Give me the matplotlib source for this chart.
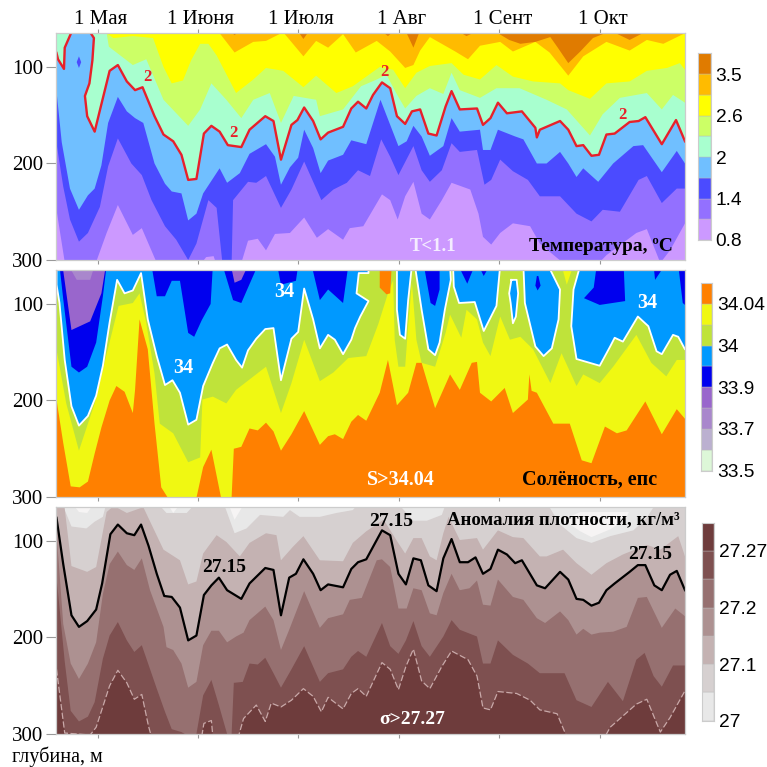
import numpy as np
import matplotlib
matplotlib.use('Agg')
import matplotlib.pyplot as plt

# x is the survey step number (0..84), y is depth in metres
month_ticks = [5.48, 18.9, 32.3, 45.75, 59.2, 72.6]
month_labels = ['1 Мая', '1 Июня', '1 Июля', '1 Авг', '1 Сент', '1 Окт']
depth_ticks = [100, 200, 300]

# temperature isolines, from warm to cold
t_35 = [(0,60),(22.8,60),(23.8,67),(24.8,60),(32,60),(33,71),(34,60),(40,60),(41,66),(42,60),(43,60),(44.3,68),(45.5,60),(46.5,60),(47.7,80),(48.7,60),(53,60),(54.8,68),(57,60),(59,65),(60.5,72),(62,76),(64,74),(66,69),(67,80),(68.4,96),(70,84),(71.7,70),(73,66),(74,60),(75,66),(76.6,72),(78.6,64),(84,60)]
t_30 = [(0,60),(21.5,60),(21.8,65),(23.8,85),(26.3,74),(28,73),(30.3,64),(33,89),(34.7,73),(36.3,80),(38.3,66),(40,85),(42.8,73),(44.6,84),(46.6,101),(47.7,98),(48.6,83),(49.9,69),(53.3,84),(55,92),(56.6,78),(59.3,74),(61,84),(64,74),(65.9,85),(68.4,109),(70.4,89),(73.5,74),(76.6,83),(78.9,72),(81.1,76),(84,65)]
t_26 = [(0,60),(6.4,60),(6.7,65),(7.6,70),(10.2,68),(12.9,70),(14.3,100),(15.4,117),(16.9,114),(18,93),(19.2,76),(20.3,76),(21.4,88),(24,127),(26.3,113),(28,101),(30.3,104),(33,121),(34.7,109),(37.4,127),(39.6,120),(41.4,110),(43.2,100),(45,103),(46.6,122),(48.1,106),(49.9,99),(52.8,96),(54.4,108),(56.6,113),(58.8,98),(61,110),(63.7,115),(67.3,117),(68.4,124),(71.3,133),(73.5,117),(76.6,115),(78.9,104),(81.6,101),(83.3,96),(84,103)]
t_23 = [(0,60),(6.4,60),(6.7,65),(7,79),(10.2,98),(12,92),(14.3,134),(17.6,161),(19.2,144),(20.7,117),(22.7,134),(24.7,153),(26.3,134),(28.5,127),(30,158),(31.7,130),(34.7,134),(35.2,151),(38.3,144),(40.7,120),(42.8,113),(44.1,108),(45.4,127),(46.6,143),(48.1,130),(49.9,122),(51.7,128),(52.8,106),(53.9,124),(56.6,132),(58.8,122),(61.9,122),(65.5,134),(68.2,144),(71.3,171),(73,149),(75.3,132),(78.9,127),(80.9,144),(82.4,129),(84,137)]
t_20 = [(0,85.5),(0.2,92),(1,102),(1.1,80),(2,64),(4.5,64),(5,70),(4.8,93),(4.4,117),(3.8,130),(4.1,151),(5.1,167),(5.7,148),(7.1,104),(8.2,98),(9.4,115),(10.5,124),(11.5,121),(13.1,151),(14.3,170),(15.6,177),(16.7,191),(17.6,217),(18.7,216),(19.7,169),(20.7,161),(21.8,167),(22.9,181),(24.7,183),(25.8,165),(27.9,151),(29,156),(30,196),(31.4,160),(32.2,155),(33.1,142),(34.3,156),(35.3,175),(36.3,168),(38.3,162),(39.4,143),(40.3,136),(41.4,143),(42.3,129),(43.5,116),(44.6,122),(45.5,151),(46.6,159),(47.5,146),(48.6,144),(49.7,169),(50.8,171),(52,141),(52.8,125),(53.9,144),(56.2,143),(57,160),(58,153),(59,137),(60.2,148),(62.2,146),(64,163),(64.2,173),(64.6,165),(67.3,156),(68.4,165),(69.5,182),(70.4,181),(71.5,192),(72.5,191),(73.5,170),(74.6,169),(76.6,157),(77.8,156),(78.7,152),(80.9,180),(82.8,155),(84,177)]
t_17 = [(0,125),(0.7,178),(1.8,226),(3,248),(4.2,233),(5.1,226),(6,202),(6.9,158),(8.2,131),(9.4,146),(10.5,153),(11.6,158),(13.1,200),(14.5,221),(15.4,229),(16.7,231),(17.6,259),(18.7,252),(19.6,231),(21.8,205),(22.8,220),(24.5,210),(25.8,190),(28,180),(29.2,193),(30,222),(31.2,204),(32.3,194),(33.1,165),(34.3,184),(35.3,210),(36.3,197),(38.3,191),(39.4,176),(41.4,180),(43.3,134),(45.7,182),(46.8,177),(47.7,161),(48.8,172),(49.9,192),(51.7,182),(52.8,153),(53.9,167),(56.6,165),(57,186),(58,186),(59,165),(61.3,172),(62.4,175),(64.2,200),(65.5,200),(67.3,188),(68.4,200),(69.5,214),(70.4,205),(72.4,219),(74.4,200),(77.1,182),(78.4,181),(80.9,209),(82.9,187),(84,200)]
t_14 = [(0,179),(0.9,224),(1.8,258),(3,281),(4.2,272),(5.8,245),(6.9,203),(8.2,174),(10,200),(11.4,212),(12.7,238),(14.5,265),(16,279),(17.6,300),(18.7,283),(20.3,238),(21.4,246),(22.2,305),(23.4,305),(23.6,238),(25.6,219),(26.7,220),(28,213),(30,246),(31.4,227),(33.1,198),(35.4,238),(37,227),(38.8,220),(40.3,207),(41.9,213),(43.4,175),(44.6,193),(45.7,212),(47.7,182),(48.8,207),(49.9,219),(51.5,207),(52.8,179),(53.9,188),(56.2,186),(57.2,222),(58.1,217),(59.3,196),(61,208),(63,217),(64.6,234),(67.3,234),(69.5,252),(71.5,260),(73,248),(75.3,250),(77.8,217),(78.9,213),(80.9,241),(82.9,226),(84,226)]
t_11 = [(0,248),(1.1,302),(5.3,302),(6.7,272),(8.2,243),(10.2,274),(11.4,267),(13.4,303),(19.4,303),(20,297),(21,296),(21.3,303),(24.7,303),(25.6,280),(26.9,278),(28,290),(29.2,273),(31.2,272),(33.1,256),(34.8,277),(36.3,268),(38.3,279),(39.2,267),(41,265),(43.5,232),(44.6,238),(45.6,258),(46.6,234),(47.7,219),(48.8,252),(49.9,258),(51.5,238),(52.8,220),(55.3,227),(56.4,252),(57,276),(58.1,284),(59.3,272),(61,262),(63.3,265),(64.6,283),(67.7,303),(72.5,303),(73.5,295),(77.5,272),(78.9,268),(80.7,303),(82,290),(84,262)]
t_spot = [(3,89),(3.3,95),(3,101),(2.7,95)]
t_colors = ['#E07B00', '#FFBB00', '#FFFF00', '#CCFF66', '#A8FFCF', '#70BFFF', '#4B4BFF', '#9370FF', '#CC99FF']
t_cbar_labels = ['0.8', '1.4', '2', '2.6', '3.5']

# salinity: the lower layers lie across the whole width, the fresher water hangs from the surface
s_34 = [(0,147),(1.3,203),(3,252),(5.1,203),(6.7,152),(8.3,102),(10.2,99),(11.1,89),(12,120),(13.1,172),(13.8,224),(15.6,234),(17.6,264),(19.2,259),(19.5,199),(20.9,196),(22.7,203),(24,189),(28,165),(30,213),(31.4,182),(33.1,137),(35.2,180),(37,171),(39,156),(41.4,154),(43,121),(44.3,89),(45,75),(45.2,137),(45.7,165),(46.6,165),(47,123),(47.5,78),(48.1,137),(48.8,161),(50.6,165),(52,130),(52.6,111),(54.1,135),(54.8,106),(56.2,116),(57,140),(58,154),(59.3,113),(60.6,137),(62,134),(63.7,147),(66,182),(67.5,151),(69.5,185),(70.4,173),(72.6,182),(74.4,165),(77.5,132),(79.5,161),(81.5,175),(82.9,158),(84,158)]
s_3404 = [(0,199),(0.9,244),(1.9,289),(3.1,290),(4.2,284),(5.1,255),(6,228),(7.1,200),(8,185),(9.1,191),(10.2,213),(10.5,189),(11.1,116),(12.2,147),(13.1,224),(14,290),(14.9,301),(18.7,301),(19.6,269),(20.7,251),(22,301),(23.4,301),(23.7,250),(24.7,248),(25.8,229),(26.9,231),(28,223),(29,232),(30,252),(31.4,235),(33.1,211),(35.2,246),(36.3,237),(37.2,235),(38.3,240),(39.4,222),(40.3,215),(41.4,221),(43.2,192),(44.3,158),(45.5,205),(47,192),(48.1,161),(48.8,161),(50.6,208),(52.6,173),(53.9,189),(55.5,161),(56.2,160),(56.6,192),(58.1,201),(59.9,187),(61,213),(63,199),(63.2,173),(63.5,190),(64.2,192),(66.4,224),(68.6,224),(70.2,262),(71.5,265),(73.3,227),(74.9,234),(76.2,231),(78.7,201),(80.9,235),(82.9,209),(84,219)]
s_lobes = [
    [(0,60),(0,80),(0.4,99),(1.1,158),(2,206),(3,226),(4.2,216),(5.3,195),(6.2,164),(7.1,119),(8.1,75),(9.1,89),(10.2,86),(11.3,68),(12.2,116),(13.4,154),(14.5,184),(15.5,179),(16.5,192),(17.6,225),(18.7,220),(19.6,185),(20.9,161),(21.8,146),(22.8,142),(24,158),(24.8,166),(25.6,148),(26.7,136),(27.9,126),(29,125),(30,179),(31.4,136),(32.3,129),(33.1,84),(34.3,116),(35.2,146),(36.3,132),(37.2,137),(38.3,152),(39.4,137),(39.9,125),(40.6,113),(41.7,97),(40.1,89),(40.4,68),(41.7,68),(41.7,60)],
    [(45.5,60),(45.5,106),(45.9,132),(46.6,136),(47,96),(47.5,60)],
    [(47.9,60),(48.8,106),(49.7,147),(50.6,153),(51.2,140),(51.9,106),(52.7,75),(52.6,60)],
    [(53,60),(53.1,82),(53.8,99),(55.9,98),(57.1,128),(58.8,102),(59.3,60)],
    [(60.8,75),(61.5,75),(61.7,89),(61.4,113),(61,120),(60.7,99),(60.5,89),(60.8,75)],
    [(62.4,60),(62.6,99),(64,144),(65.1,154),(66.2,146),(67.1,116),(67.3,85),(65.7,60)],
    [(70,60),(69.1,85),(68.8,123),(69.5,157),(72.6,164),(74,144),(74.6,135),(75.7,139),(77.7,113),(79.1,123),(80.2,149),(80.9,152),(82.4,132),(83.1,134),(84,147),(85,147),(85,60)],
]
s_dark = [
    [(0.4,60),(0.9,95),(2,165),(3,171),(4.1,165),(5.3,140),(6.2,92),(6.7,60)],
    [(12.7,60),(13.4,92),(14.5,92),(15.4,76),(16.5,76),(17.6,130),(18.4,134),(19.4,117),(20.6,100),(20.9,60)],
    [(22.2,60),(23.6,96),(24.7,99),(25.6,83),(26.9,60)],
    [(29.5,60),(30,80),(32,76),(32.3,60)],
    [(34.1,60),(35.2,96),(36.3,85),(38.3,99),(39,60)],
    [(49.1,60),(50,99),(50.6,102),(51.2,85),(51.2,60)],
    [(53.7,60),(54.9,79),(55.9,60)],
    [(56.4,60),(57.1,71),(57.9,60)],
    [(64.2,71),(64,81),(64.3,86),(64.7,81),(64.4,71)],
    [(72.2,60),(71.8,83),(70.5,94),(72.6,101),(76,97),(75.8,60)],
    [(79.8,60),(80,75),(81.3,60)],
    [(83.1,60),(83.7,99),(84,101),(84,60)],
]
s_purple = [[(0.8,60),(2,127),(4.5,118),(6,89),(6.6,60)], [(23.3,60),(23.8,78),(24.7,75),(25.6,60)]]
s_lilac = [[(1.6,60),(2.7,75),(4.5,75),(5.1,60)]]
s_top_orange = [(43.2,60),(43.2,83),(44.1,90),(44.6,89),(44.8,60)]
s_top_yellow = [[(67.5,60),(68.2,80),(69.1,60)], [(61.7,60),(62.2,67),(62.9,60)]]
s_colors = ['#FF8000', '#F0F812', '#BFE33A', '#0099FF', '#0000EE', '#9966CC', '#A987CC', '#BBB0D0', '#DDF7D8']
s_cbar_labels = ['33.5', '33.7', '33.9', '34', '34.04']

# density anomaly isolines, from light to heavy
d_2705 = [(0,60),(0.9,64),(2,85),(4,87),(5.1,80),(6.2,75),(6.7,60),(13.4,60),(14.7,71),(17.4,71),(18.7,60),(22.3,60),(23.8,92),(25.4,87),(27.2,73),(30.3,75),(31.2,68),(32.5,75),(35.2,75),(37.4,71),(39.6,68),(40.5,60),(45.5,60),(47.7,79),(49.5,79),(51.5,73),(52.1,60),(65.5,60),(67.3,83),(69.5,97),(71.5,102),(74,95),(77.1,89),(78.9,76),(80.2,60),(84,60)]
d_271 = [(0,60),(1,60),(2,126),(4.1,132),(5.3,127),(6.7,70),(7.3,66),(8.2,66),(9.4,71),(11.6,65),(14.3,109),(16.5,120),(17.6,145),(18.7,142),(19.6,113),(21.4,94),(22.7,101),(24.5,116),(25.8,102),(28,92),(29.4,94),(30,120),(31.6,106),(33,95),(35.2,120),(38.3,121),(39.6,102),(41.4,90),(43.7,78),(44.3,85),(45.5,100),(46.6,113),(47.7,97),(48.8,97),(49.9,116),(50.8,120),(51.7,92),(52.4,75),(53.9,99),(56.2,97),(57,109),(59,89),(61,96),(62.4,97),(64.6,116),(65.5,116),(67.7,109),(69.5,123),(71.5,135),(73.5,123),(75.7,114),(78.9,104),(80.7,109),(83.1,95),(84,116)]
d_2715 = [(0,76),(0.9,124),(2,177),(3,189),(4.1,183),(5.3,171),(6.1,144),(7.2,93),(8.2,83),(9.4,92),(10.4,94),(11.3,83),(12.3,105),(13.4,134),(14.4,157),(15.4,158),(16.5,169),(17.6,203),(18.7,198),(19.7,156),(20.7,146),(21.7,138),(22.8,151),(24.7,160),(25.8,144),(27.9,128),(29,130),(30,177),(31.1,138),(32,134),(33,119),(34.3,134),(35.3,151),(36.3,145),(38.3,148),(39.4,129),(40.3,122),(41.4,119),(43.5,89),(44.6,94),(45.7,134),(46.7,145),(47.7,118),(48.7,120),(49.7,146),(50.8,152),(51.7,118),(52.8,98),(53.9,122),(55,122),(56,117),(57,134),(58,129),(59,109),(60.2,114),(61.3,123),(62.2,120),(64.2,146),(65.3,149),(67.3,132),(68.4,140),(69.5,160),(70.4,161),(71.5,167),(72.5,164),(73.5,151),(74.6,144),(76.6,132),(77.7,125),(78.7,125),(79.9,146),(80.9,151),(82,135),(82.9,131),(84,151)]
d_272 = [(0,91),(0.9,186),(1.9,227),(3,243),(4.2,227),(5.3,205),(6.2,155),(7.1,124),(8.2,111),(9.4,125),(10.4,130),(11.4,118),(12.5,151),(14.3,189),(14.7,210),(15.6,213),(16.7,227),(17.6,252),(18.7,246),(19.6,208),(20.7,193),(21.7,193),(22.8,205),(24,199),(25,195),(25.8,182),(27.9,168),(29,182),(30,213),(31.1,192),(33.1,152),(35.2,190),(36.3,180),(38.3,176),(39.2,161),(40.8,159),(42.8,120),(43.5,119),(44.6,127),(45.7,170),(46.8,170),(47.7,149),(48.8,151),(49.9,175),(50.8,177),(51.7,154),(52.8,134),(53.9,151),(55.2,149),(56.2,141),(57,166),(58,167),(59,140),(61,158),(62.4,161),(64.2,180),(65.3,185),(67.3,173),(68.4,182),(69.5,197),(70.4,191),(71.5,197),(72.6,195),(74.4,194),(76.2,189),(77.7,159),(78.9,158),(80.9,190),(82.7,170),(84,178)]
d_2725 = [(0,137),(1.1,225),(1.9,276),(3,287),(4.2,282),(5.1,267),(6.2,222),(7.1,198),(8.2,184),(9.4,203),(10.4,215),(11.4,208),(13.4,253),(14.5,277),(15.4,295),(16.7,298),(17.6,302),(18.7,300),(19.6,260),(20.7,244),(21.7,270),(22.8,300),(23.4,301),(23.7,247),(24.9,246),(25.8,227),(26.9,228),(27.9,221),(29,237),(30,252),(31.4,233),(33.1,209),(35.2,246),(36.3,237),(38.3,233),(39.4,220),(40.3,214),(41.4,220),(43.5,185),(44.6,209),(45.7,217),(46.7,203),(47.7,183),(48.8,209),(49.9,220),(51.7,199),(52.8,182),(53.9,192),(56.2,199),(57,227),(58,227),(59,203),(61,218),(63,227),(64.6,237),(66.4,237),(67.9,237),(69.5,265),(71.5,272),(73.7,246),(75.7,266),(77.5,223),(78.6,216),(79.8,240),(80.9,251),(82.4,229),(84,229)]
d_2727 = [(0,233),(1.1,299),(4.5,301),(5.3,293),(7.1,250),(8.2,234),(9.4,247),(10.4,264),(11.4,259),(12.3,292),(12.7,303),(19.4,303),(19.7,289),(20.7,286),(20.9,303),(24.3,303),(25,284),(26.7,270),(27.9,287),(28.7,268),(30,272),(31.4,265),(33,253),(34.3,261),(35.4,277),(36.3,262),(38.3,274),(39.4,258),(40.3,253),(41.4,261),(43.5,226),(44.6,233),(45.7,254),(46.7,230),(47.7,212),(48.8,245),(49.9,253),(51.5,230),(52.8,214),(55,223),(56.2,240),(57,273),(58,275),(59,256),(61.5,258),(63.3,265),(64.6,275),(66.9,279),(68.2,303),(73.3,303),(74,293),(77.5,269),(78.9,264),(80.7,298),(82,283),(83.8,258),(84,255)]
d_white = [[(2,60),(3,70),(4.1,71),(5.1,60)], [(14.7,60),(15.6,71),(16.7,60)], [(22.9,60),(23.8,78),(25.2,60)], [(67.7,78),(70,90),(71.5,96),(74,88),(76,78),(76.5,70),(70,70)]]
d_colors = ['#E8E8E8', '#D6D0D0', '#C4B2B2', '#AD9191', '#967070', '#7E5050', '#6E3C3C']
d_cbar_labels = ['27', '27.1', '27.2', '27.27']

plt.rcParams['font.family'] = ['Liberation Serif']
W = 767.0


def make_axes(fig, top_px, months=False):
    ax = fig.add_axes([56.5 / W, 1 - (top_px + 227) / W, 628.5 / W, 227 / W])
    ax.set_xlim(0, 84)
    ax.set_ylim(300, 64.8)
    ax.set_yticks(depth_ticks)
    ax.set_yticklabels(depth_ticks, fontsize=15)
    ax.set_xticks(month_ticks)
    ax.set_xticklabels([])
    ax.tick_params(axis='y', length=7, width=0.8, color='#999999', pad=2.5)
    ax.tick_params(axis='x', length=3, width=0.8, color='#999999', top=months)
    if months:
        for pos, lab in zip(month_ticks, month_labels):
            ax.annotate(lab, (pos, 1), xycoords=('data', 'axes fraction'), xytext=(2, 10),
                        textcoords='offset points', ha='center', va='center', fontsize=15)
    for sp in ax.spines.values():
        sp.set_color('#CCCCCC')
        sp.set_linewidth(0.9)
    return ax


def layer(ax, pts, color):
    x, d = np.array(pts, dtype=float).T
    ax.fill(np.r_[x, x[-1], x[0]], np.r_[d, 330, 330], color=color, lw=0)


def hanging(ax, pts, color, edge=None):
    x, d = np.array(pts, dtype=float).T
    ax.fill(x, d, color=color, lw=0)
    if edge:
        ax.plot(x, d, color=edge, lw=1.3)


def colorbar(fig, left_px, top_px, w_px, h_px, colors, ticks, labels):
    # colors run from the top box to the bottom box
    cax = fig.add_axes([left_px / W, 1 - (top_px + h_px) / W, w_px / W, h_px / W])
    rev = colors[::-1]
    for k, c in enumerate(rev):
        cax.bar(0, 1, bottom=k, width=1, color=c, edgecolor='#BBBBBB', linewidth=0.3)
    cax.set_xlim(-0.5, 0.5)
    cax.set_ylim(0, len(colors))
    cax.set_xticks([])
    cax.yaxis.tick_right()
    cax.set_yticks(ticks)
    cax.set_yticklabels(labels, fontsize=13.8, family=['Liberation Sans'])
    cax.tick_params(axis='y', length=0, pad=3.5)
    for sp in cax.spines.values():
        sp.set_color('#CCCCCC')
        sp.set_linewidth(0.8)


fig = plt.figure(figsize=(7.67, 7.67), dpi=100)

# temperature
ax1 = make_axes(fig, 33, months=True)
ax1.set_facecolor(t_colors[0])
for pts, c in zip([t_35, t_30, t_26, t_23, t_20, t_17, t_14, t_11], t_colors[1:]):
    layer(ax1, pts, c)
hanging(ax1, t_spot, t_colors[6])
ax1.plot(*np.array(t_20).T, color='#E8202A', lw=1.7)
for xv, dv in [(12.2, 110), (23.7, 168), (43.8, 105), (75.6, 150)]:
    ax1.text(xv, dv, '2', color='#E8202A', fontsize=12, fontweight='bold', ha='center', va='center')
ax1.text(50.3, 286, 'T<1.1', color='#F4ECFF', fontsize=13.5, fontweight='bold', ha='center', va='center')
ax1.text(72.7, 286, 'Температура, ºC', color='black', fontsize=14, fontweight='bold', ha='center', va='center')
colorbar(fig, 698, 53.3, 12.7, 186.7, t_colors, [0, 2, 4, 6, 8], t_cbar_labels)

# salinity
ax2 = make_axes(fig, 270)
ax2.set_facecolor(s_colors[2])
layer(ax2, s_34, s_colors[1])
layer(ax2, s_3404, s_colors[0])
hanging(ax2, s_top_orange, s_colors[0])
for pts in s_top_yellow:
    hanging(ax2, pts, s_colors[1])
for pts in s_lobes:
    hanging(ax2, pts, s_colors[3], edge='white')
for pts in s_dark:
    hanging(ax2, pts, s_colors[4])
for pts in s_purple:
    hanging(ax2, pts, s_colors[5])
for pts in s_lilac:
    hanging(ax2, pts, s_colors[6])
for xv, dv in [(17, 166), (30.5, 88), (79, 99)]:
    ax2.text(xv, dv, '34', color='white', fontsize=14.5, fontweight='bold', ha='center', va='center')
ax2.text(46, 282, 'S>34.04', color='white', fontsize=14.5, fontweight='bold', ha='center', va='center')
ax2.text(71.3, 282, 'Солёность, епс', color='black', fontsize=14.5, fontweight='bold', ha='center', va='center')
colorbar(fig, 700.7, 283, 11.7, 187.7, s_colors, [0, 2, 4, 6, 8], s_cbar_labels)

# density anomaly
ax3 = make_axes(fig, 507)
ax3.set_facecolor(d_colors[0])
for pts, c in zip([d_2705, d_271, d_2715, d_272, d_2725, d_2727], d_colors[1:]):
    layer(ax3, pts, c)
for pts in d_white:
    hanging(ax3, pts, '#F6F4F4')
ax3.plot(*np.array(d_2715).T, color='black', lw=1.6)
ax3.plot(*np.array(d_2727).T, color='#C9A9A9', lw=0.9, ls=(0, (5, 2)))
for xv, dv in [(22.4, 128), (44.7, 80), (79.3, 114.5)]:
    ax3.text(xv, dv, '27.15', color='black', fontsize=14, fontweight='bold', ha='center', va='center')
ax3.text(47.6, 285, 'σ>27.27', color='white', fontsize=14, fontweight='bold', ha='center', va='center')
ax3.text(67.7, 78, 'Аномалия плотности, кг/м³', color='black', fontsize=13.5, fontweight='bold', ha='center', va='center')
colorbar(fig, 701.7, 522.7, 12.3, 198, d_colors[::-1], [0, 2, 4, 6], d_cbar_labels)

fig.text(12 / W, 1 - 757 / W, 'глубина, м', fontsize=14.5, ha='left', va='center')

fig.savefig('out.png', dpi=100)
